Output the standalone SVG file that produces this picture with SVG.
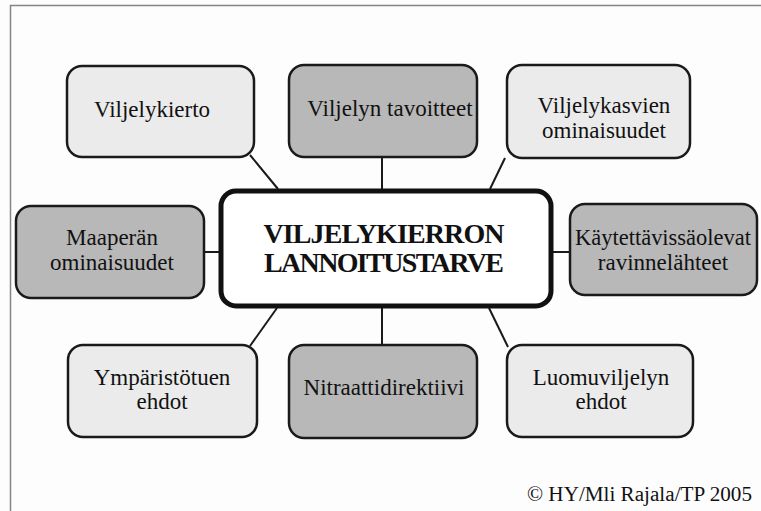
<svg xmlns="http://www.w3.org/2000/svg" width="761" height="511" viewBox="0 0 761 511">
<style>
.box{stroke:#1a1a1a;stroke-width:2.5}
.light{fill:#ebebeb}
.dark{fill:#b8b8b8}
.c{stroke:#1a1a1a;stroke-width:2;fill:none}
</style>
<rect width="761" height="511" fill="#fdfdfd"/>
<path d="M10.5 511 V5.5 H761" fill="none" stroke="#858585" stroke-width="1.5"/>
<g id="connectors">
<line class="c" x1="250" y1="155" x2="278" y2="189"/>
<line class="c" x1="382" y1="157" x2="382" y2="189"/>
<line class="c" x1="505" y1="158" x2="490" y2="189"/>
<line class="c" x1="204" y1="252" x2="219" y2="252"/>
<line class="c" x1="553" y1="252" x2="570" y2="252"/>
<line class="c" x1="277" y1="308" x2="250" y2="346"/>
<line class="c" x1="382" y1="308" x2="382" y2="345"/>
<line class="c" x1="489" y1="308" x2="508" y2="347"/>
</g>
<g id="center">
<rect x="221" y="191" width="330" height="115" rx="15" fill="#fff" stroke="#111" stroke-width="5"/>
<text x="384" y="243" font-family="Liberation Serif, serif" font-weight="bold" font-size="28" text-anchor="middle" textLength="241" lengthAdjust="spacing" fill="#111">VILJELYKIERRON</text>
<text x="384" y="272" font-family="Liberation Serif, serif" font-weight="bold" font-size="28" text-anchor="middle" textLength="240" lengthAdjust="spacing" fill="#111">LANNOITUSTARVE</text>
</g>
<g font-family="Liberation Serif, serif" font-size="23" text-anchor="middle" fill="#111">
<g id="viljelykierto">
<rect class="box light" x="67" y="66" width="187" height="91" rx="15"/>
<text x="152" y="117">Viljelykierto</text>
</g>
<g id="viljelyn-tavoitteet">
<rect class="box dark" x="289" y="65" width="188" height="92" rx="15"/>
<text x="390" y="116">Viljelyn tavoitteet</text>
</g>
<g id="viljelykasvien-ominaisuudet">
<rect class="box light" x="507" y="65" width="183" height="93" rx="15"/>
<text x="604" y="113">Viljelykasvien</text>
<text x="604" y="138">ominaisuudet</text>
</g>
<g id="maaperan-ominaisuudet">
<rect class="box dark" x="16" y="206" width="188" height="92" rx="15"/>
<text x="112" y="245">Maaperän</text>
<text x="112" y="270">ominaisuudet</text>
</g>
<g id="kaytettavissaolevat">
<rect class="box dark" x="570" y="204" width="187" height="91" rx="15"/>
<text x="663" y="245" textLength="176" lengthAdjust="spacingAndGlyphs">Käytettävissäolevat</text>
<text x="663" y="270">ravinnelähteet</text>
</g>
<g id="ymparistotuen-ehdot">
<rect class="box light" x="68" y="345" width="189" height="92" rx="15"/>
<text x="162" y="385">Ympäristötuen</text>
<text x="162" y="409">ehdot</text>
</g>
<g id="nitraattidirektiivi">
<rect class="box dark" x="289" y="345" width="188" height="93" rx="15"/>
<text x="384" y="395">Nitraattidirektiivi</text>
</g>
<g id="luomuviljelyn-ehdot">
<rect class="box light" x="507" y="345" width="186" height="92" rx="15"/>
<text x="601" y="385">Luomuviljelyn</text>
<text x="601" y="409">ehdot</text>
</g>
</g>
<text x="752" y="501" font-family="Liberation Serif, serif" font-size="20" text-anchor="end" textLength="225" lengthAdjust="spacingAndGlyphs" fill="#111">© HY/Mli Rajala/TP 2005</text>
</svg>
